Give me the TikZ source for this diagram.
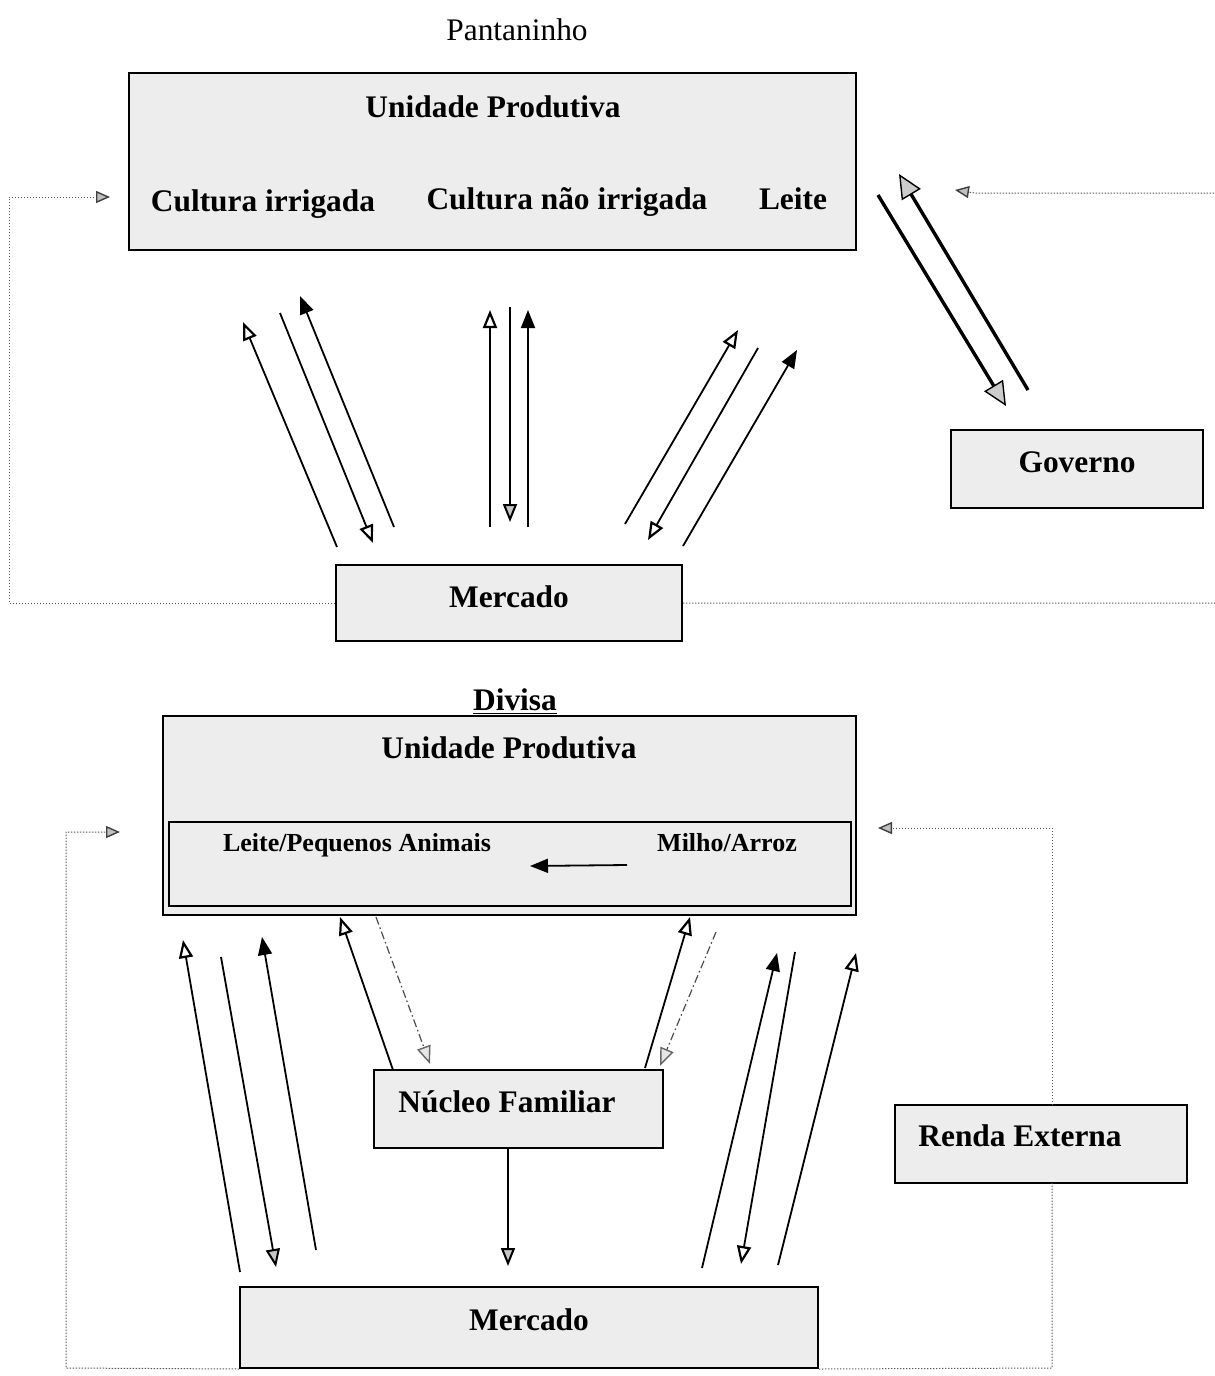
\documentclass[tikz,border=0pt]{standalone}
\usepackage{fontspec}
\setmainfont{Liberation Serif}
\usetikzlibrary{arrows.meta}
\begin{document}
\begin{tikzpicture}[x=0.5pt,y=-0.5pt,
 box/.style={draw=black, line width=1pt, fill=black!7, inner sep=0pt},
 big/.style={font=\fontsize{15.7}{18}\selectfont\bfseries, inner sep=0pt, anchor=base},
 small/.style={font=\fontsize{13}{15}\selectfont\bfseries, inner sep=0pt, anchor=base},
 flow/.style={line width=0.9pt},
 openarr/.style={flow, -{Triangle[length=9pt,width=7pt,fill=white,line width=1.1pt]}},
 fullarr/.style={flow, -{Triangle[length=9pt,width=7pt]}},
 grayarr/.style={flow, -{Triangle[length=9pt,width=7pt,fill=gray!45,line width=1pt]}},
 govarr/.style={line width=1.7pt, -{Triangle[length=12pt,width=11pt,fill=gray!40,line width=0.7pt]}},
 dotline/.style={draw=black!65, line width=0.5pt, dash pattern=on 0.7pt off 0.8pt},
 dotarr/.style={dotline, -{Triangle[length=7pt,width=6pt,fill=gray!50,color=black!75,line width=0.7pt]}},
 dashdot/.style={draw=black!70, line width=0.6pt, dash pattern=on 4pt off 1.5pt on 0.8pt off 1.5pt, -{Triangle[length=9pt,width=7pt,fill=gray!20,color=black!60,line width=0.7pt]}},
]
\useasboundingbox (0,0) rectangle (1215,1376);

% ===================== Pantaninho =====================
\node[font=\fontsize{15.7}{18}\selectfont, inner sep=0pt, anchor=base] (pant) at (517,40) {Pantaninho};

\node[box, minimum width=363.5pt, minimum height=88.5pt] (up1) at (492.5,161.5) {};
\node[big] (tup1) at (493,117) {Unidade Produtiva};
\node[big] (ci) at (263,211) {Cultura irrigada};
\node[big] (cni) at (567,209) {Cultura não irrigada};
\node[big] (leite) at (793,209) {Leite};

\node[box, minimum width=126pt, minimum height=39pt] (gov) at (1077,469) {};
\node[big] (tgov) at (1077,472) {Governo};

\node[box, minimum width=173pt, minimum height=38pt] (merc1) at (509,603) {};
\node[big] (tmerc1) at (509,607) {Mercado};

% left group
\coordinate (a1s) at (337,547); \coordinate (a1e) at (243,322);
\coordinate (a2s) at (280,313); \coordinate (a2e) at (373,543);
\coordinate (a3s) at (394,527); \coordinate (a3e) at (300,296);
\draw[openarr] (a1s) -- (a1e);
\draw[openarr] (a2s) -- (a2e);
\draw[fullarr] (a3s) -- (a3e);
% centre group
\coordinate (b1s) at (490,527); \coordinate (b1e) at (490,310);
\coordinate (b2s) at (510,307); \coordinate (b2e) at (510,522);
\coordinate (b3s) at (528,527); \coordinate (b3e) at (528,310);
\draw[openarr] (b1s) -- (b1e);
\draw[grayarr] (b2s) -- (b2e);
\draw[fullarr] (b3s) -- (b3e);
% right group
\coordinate (c1s) at (625,524); \coordinate (c1e) at (738,330);
\coordinate (c2s) at (758,348); \coordinate (c2e) at (648,540);
\coordinate (c3s) at (683,546); \coordinate (c3e) at (797,350);
\draw[openarr] (c1s) -- (c1e);
\draw[openarr] (c2s) -- (c2e);
\draw[fullarr] (c3s) -- (c3e);
% governo
\coordinate (g1s) at (878,195); \coordinate (g1e) at (1006,406);
\coordinate (g2s) at (1028,390); \coordinate (g2e) at (899,174);
\draw[govarr] (g1s) -- (g1e);
\draw[govarr] (g2s) -- (g2e);

% dotted loops
\coordinate (lt1) at (110,197);
\coordinate (rt1) at (955,190);
\draw[dotarr] (merc1.west) -- (9,603) -- (9,197) -- (lt1);
\draw[dotarr] (merc1.east) -- (1222,603) -- (1222,193) -- (975,193) -- (rt1);

% ===================== Divisa =====================
\node[big] (div) at (515,710) {\underline{Divisa}};
\node[box, minimum width=346.5pt, minimum height=99.5pt] (up2) at (509.5,815.5) {};
\node[big] (tup2) at (509,758) {Unidade Produtiva};
\node[box, line width=0.8pt, minimum width=341pt, minimum height=42pt] (inner) at (510,864) {};
\node[small] (lpa) at (357,851) {Leite/Pequenos Animais};
\node[small] (ma) at (727,851) {Milho/Arroz};
\coordinate (ins) at (627,865); \coordinate (ine) at (530,866);
\draw[fullarr] (ins) -- (ine);

\node[box, minimum width=144.5pt, minimum height=39pt] (nuc) at (518.5,1109) {};
\node[big] (tnuc) at (507,1112) {Núcleo Familiar};

\node[box, minimum width=146pt, minimum height=39pt] (renda) at (1041,1144) {};
\node[big] (trenda) at (1020,1146) {Renda Externa};

\node[box, minimum width=289pt, minimum height=40.5pt] (merc2) at (529,1327.5) {};
\node[big] (tmerc2) at (529,1330) {Mercado};

% left group
\coordinate (l1s) at (240,1272); \coordinate (l1e) at (183,940);
\coordinate (l2s) at (221,957); \coordinate (l2e) at (276,1267);
\coordinate (l3s) at (316,1250); \coordinate (l3e) at (262,937);
\draw[openarr] (l1s) -- (l1e);
\draw[grayarr] (l2s) -- (l2e);
\draw[fullarr] (l3s) -- (l3e);
% núcleo
\coordinate (n1s) at (393,1070); \coordinate (n1e) at (340,917);
\coordinate (n2s) at (376,917); \coordinate (n2e) at (430,1064);
\coordinate (n3s) at (645,1068); \coordinate (n3e) at (690,917);
\coordinate (n4s) at (716,932); \coordinate (n4e) at (660,1066);
\coordinate (n5e) at (508,1266);
\draw[openarr] (n1s) -- (n1e);
\draw[dashdot] (n2s) -- (n2e);
\draw[openarr] (n3s) -- (n3e);
\draw[dashdot] (n4s) -- (n4e);
\draw[grayarr] (nuc.south -| n5e) -- (n5e);
% right group
\coordinate (r1s) at (702,1268); \coordinate (r1e) at (777,953);
\coordinate (r2s) at (795,952); \coordinate (r2e) at (741,1264);
\coordinate (r3s) at (778,1265); \coordinate (r3e) at (856,953);
\draw[fullarr] (r1s) -- (r1e);
\draw[openarr] (r2s) -- (r2e);
\draw[openarr] (r3s) -- (r3e);

% dotted loops
\coordinate (lt2) at (120,832);
\coordinate (rt2) at (878,828);
\draw[dotarr] (merc2.south west) -- (66,1368) -- (66,832) -- (lt2);
\draw[dotline] (merc2.south east) -- (1052,1368) -- (1052,1183);
\draw[dotarr] (1052,1105) -- (1052,828) -- (rt2);
\end{tikzpicture}
\end{document}
